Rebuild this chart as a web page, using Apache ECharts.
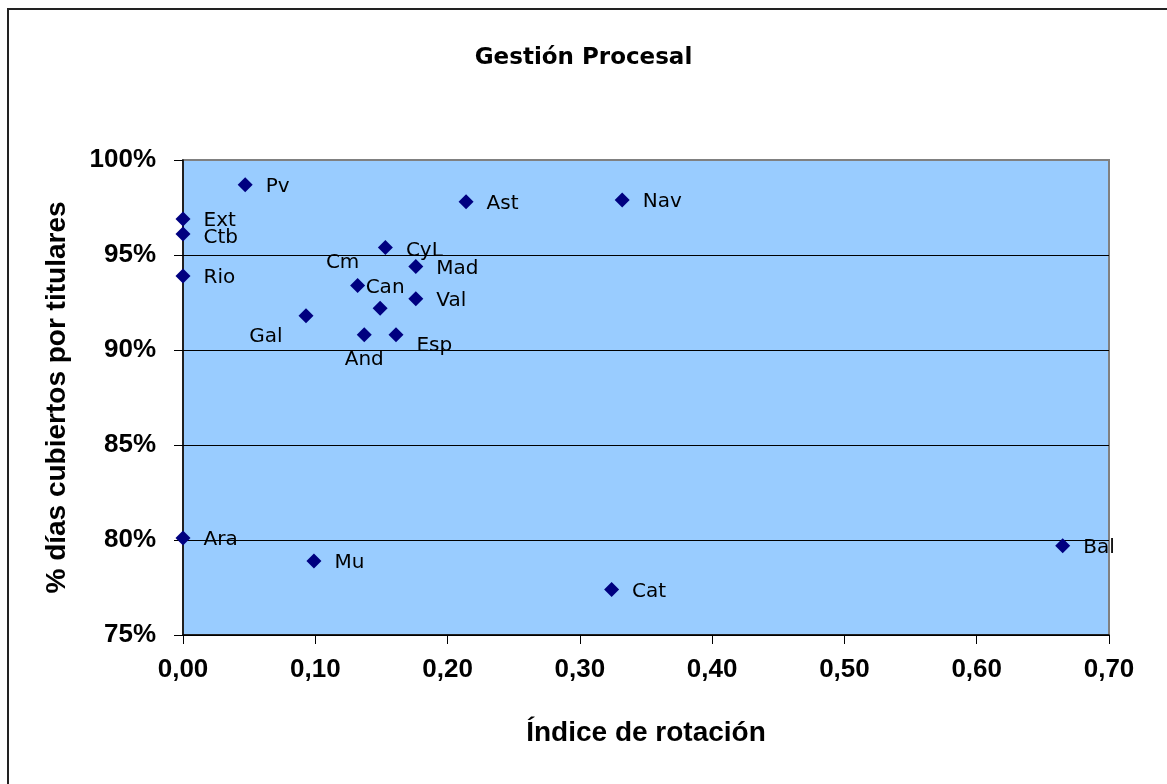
<!DOCTYPE html>
<html>
<head>
<meta charset="utf-8">
<title>Gestión Procesal</title>
<script src="https://cdn.jsdelivr.net/npm/echarts@6/dist/echarts.min.js"></script>
<style>
  html, body { margin: 0; padding: 0; background: #fff; }
  #chart { width: 1167px; height: 784px; }
</style>
</head>
<body>
<div id="chart"></div>
<script>
// Comunidades (etiquetas de cada punto)
const regions = ["Pv", "Ext", "Ctb", "Rio", "Ast", "Nav", "CyL", "Cm", "Can", "Mad", "Val",
  "Gal", "And", "Esp", "Ara", "Mu", "Cat", "Bal"];
// Índice de rotación (eje X)
const rotation = [0.047, 0.0, 0.0, 0.0, 0.214, 0.332, 0.153, 0.132, 0.149, 0.176, 0.176,
  0.093, 0.137, 0.161, 0.0, 0.099, 0.324, 0.665];
// % días cubiertos por titulares (eje Y)
const coverage = [98.7, 96.9, 96.1, 93.9, 97.8, 97.9, 95.4, 93.4, 92.2, 94.4, 92.7,
  91.8, 90.8, 90.8, 80.1, 78.9, 77.4, 79.7];
// Ticks de los ejes
const xTicks = [0, 0.1, 0.2, 0.3, 0.4, 0.5, 0.6, 0.7];
const yTicks = [75, 80, 85, 90, 95, 100];

// colocación de las etiquetas que se movieron a mano
const labelPlacement = {
  Ctb: { position: "right", offset: [0, 4] },
  CyL: { position: "right", offset: [0, 3] },
  Esp: { position: "right", offset: [0, 11] },
  Gal: { position: "left", distance: 16, offset: [0, 21] },
  And: { position: "bottom", distance: 7, offset: [0, 0] },
  Cm: { position: "top", distance: 5, offset: [-15, 0] },
  Can: { position: "top", distance: 3, offset: [5, 0] },
};

const chart = echarts.init(document.getElementById("chart"));

const points = regions.map((name, i) => {
  const item = { name: name, value: [rotation[i], coverage[i]] };
  if (labelPlacement[name]) item.label = labelPlacement[name];
  return item;
});

const option = {
  backgroundColor: "#fff",
  animation: false,
  title: {
    text: "Gestión Procesal",
    left: "center",
    top: 42,
    textStyle: { fontFamily: "DejaVu Sans", fontWeight: "bold", fontSize: 23, color: "#000" },
  },
  graphic: [{
    type: "rect",
    shape: { x: 8, y: 9, width: 1170, height: 800 },
    style: { fill: null, stroke: "#222", lineWidth: 2 },
    silent: true,
  }],
  grid: {
    left: 183, top: 160, right: 58, bottom: 149,
    show: true,
    backgroundColor: "#99ccff",
    borderColor: "#808080",
    borderWidth: 2,
  },
  xAxis: {
    type: "value",
    min: xTicks[0],
    max: xTicks[xTicks.length - 1],
    interval: 0.1,
    name: "Índice de rotación",
    nameLocation: "middle",
    nameGap: 84,
    nameTextStyle: { fontFamily: "Liberation Sans", fontWeight: "bold", fontSize: 28, color: "#000" },
    axisLine: { lineStyle: { color: "#000", width: 1.5 } },
    axisTick: { show: true, inside: false, length: 9, lineStyle: { color: "#000" } },
    axisLabel: {
      margin: 22,
      fontFamily: "Liberation Sans", fontWeight: "bold", fontSize: 26, color: "#000",
      formatter: (v) => v.toFixed(2).replace(".", ","),
    },
    splitLine: { show: false },
  },
  yAxis: {
    type: "value",
    min: yTicks[0],
    max: yTicks[yTicks.length - 1],
    interval: 5,
    name: "% días cubiertos por titulares",
    nameLocation: "middle",
    nameGap: 112,
    nameTextStyle: { fontFamily: "Liberation Sans", fontWeight: "bold", fontSize: 28, color: "#000" },
    axisLine: { show: true, lineStyle: { color: "#000", width: 1.5 } },
    axisTick: { show: true, inside: false, length: 9, lineStyle: { color: "#000" } },
    axisLabel: {
      margin: 27,
      fontFamily: "Liberation Sans", fontWeight: "bold", fontSize: 26, color: "#000",
      formatter: "{value}%",
    },
    splitLine: {
      show: true,
      lineStyle: { color: ["#000", "#000", "#000", "#000", "#000", "#808080"], width: 1.2 },
    },
  },
  series: [{
    type: "scatter",
    symbol: "diamond",
    symbolSize: 15,
    itemStyle: { color: "#000080", opacity: 1 },
    data: points,
    label: {
      show: true,
      position: "right",
      distance: 13,
      offset: [0, 2],
      formatter: "{b}",
      fontFamily: "DejaVu Sans",
      fontSize: 20,
      color: "#000",
    },
  }],
};

chart.setOption(option);
</script>
</body>
</html>
